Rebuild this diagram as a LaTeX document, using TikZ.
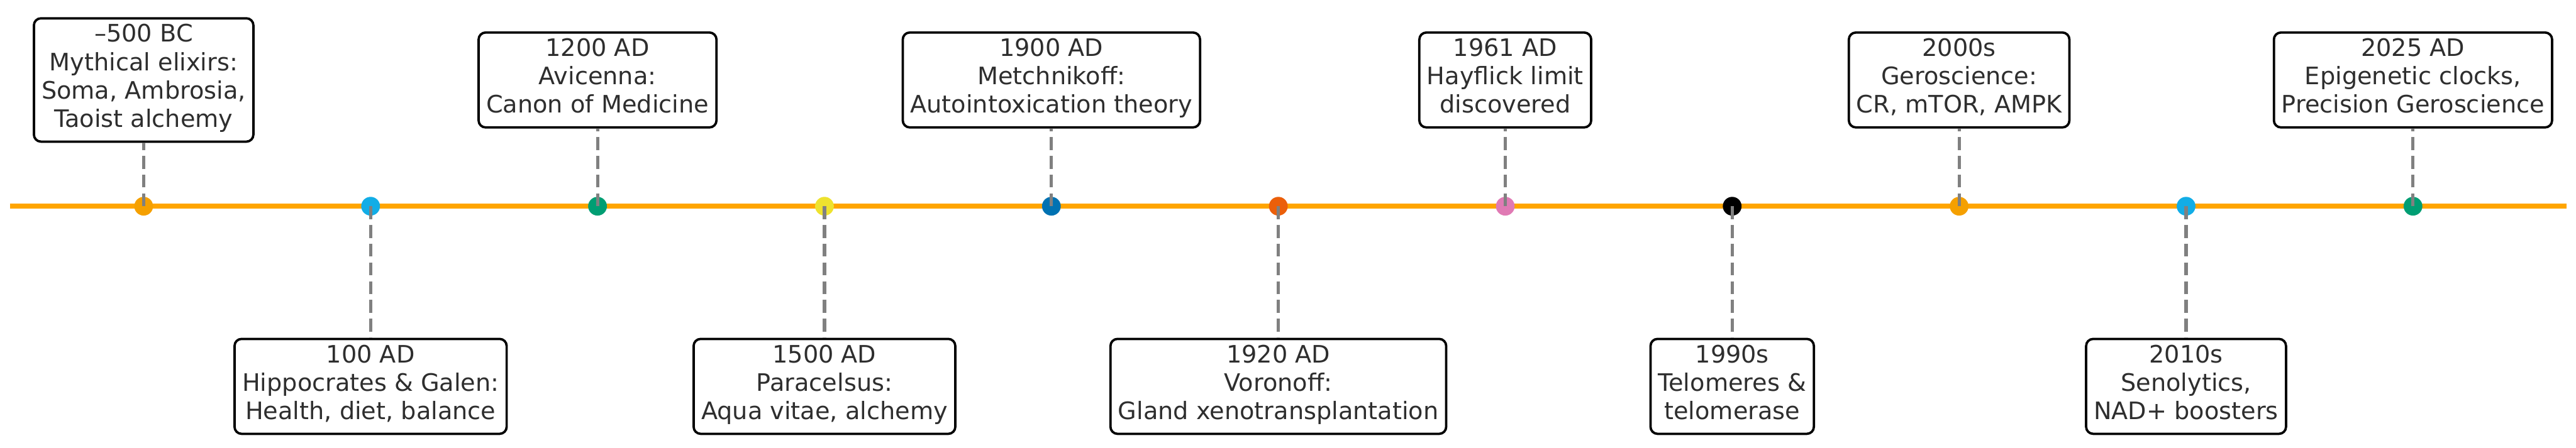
\documentclass[tikz,border=0pt]{standalone}
\usepackage{fontspec}
\setmainfont{DejaVu Sans}
\usetikzlibrary{positioning}
\definecolor{axisorange}{HTML}{FFA500}
\definecolor{oiorange}{HTML}{F5A000}
\definecolor{oisky}{HTML}{12ADE6}
\definecolor{oigreen}{HTML}{009E73}
\definecolor{oiyellow}{HTML}{EEE22E}
\definecolor{oiblue}{HTML}{0072B2}
\definecolor{oired}{HTML}{EB5F0A}
\definecolor{oipink}{HTML}{E07AB4}
\definecolor{stemgray}{HTML}{808080}
\definecolor{labeltext}{HTML}{2E2E2E}

\begin{document}
\begin{tikzpicture}[
  evt/.style={draw=black, line width=0.04cm, rounded corners=0.12cm, fill=white,
    align=center, inner xsep=0.13cm, inner ysep=0.1cm, text=labeltext,
    font=\fontsize{11.67}{13.8}\selectfont,
    execute at begin node=\strut, execute at end node=\strut},
  dot/.style={circle, inner sep=0pt, minimum size=0.32cm},
  stem/.style={stemgray, line width=0.055cm, dash pattern=on 0.22cm off 0.1cm}]
\useasboundingbox (0,0) rectangle (43.93,7.64);
\coordinate (up) at (0,6.275);
\coordinate (down) at (0,1.045);
\draw[axisorange, line width=0.08cm] (0.17,4.12) -- (43.77,4.12);
%event dots
\foreach \i/\c in {0/oiorange,1/oisky,2/oigreen,3/oiyellow,4/oiblue,5/oired,6/oipink,7/black,8/oiorange,9/oisky,10/oigreen}
  {\node[dot, fill=\c] (d\i) at (2.45+3.87*\i,4.12) {};}

%labels above the line
\node[evt] (e0) at (d0 |- up) {–500 BC\\Mythical elixirs:\\Soma, Ambrosia,\\Taoist alchemy};
\node[evt] (e2) at (d2 |- up) {1200 AD\\Avicenna:\\Canon of Medicine};
\node[evt] (e4) at (d4 |- up) {1900 AD\\Metchnikoff:\\Autointoxication theory};
\node[evt] (e6) at (d6 |- up) {1961 AD\\Hayflick limit\\discovered};
\node[evt] (e8) at (d8 |- up) {2000s\\Geroscience:\\CR, mTOR, AMPK};
\node[evt] (e10) at (d10 |- up) {2025 AD\\Epigenetic clocks,\\Precision Geroscience};

%labels below the line
\node[evt] (e1) at (d1 |- down) {100 AD\\Hippocrates \& Galen:\\Health, diet, balance};
\node[evt] (e3) at (d3 |- down) {1500 AD\\Paracelsus:\\Aqua vitae, alchemy};
\node[evt] (e5) at (d5 |- down) {1920 AD\\Voronoff:\\Gland xenotransplantation};
\node[evt] (e7) at (d7 |- down) {1990s\\Telomeres \&\\telomerase};
\node[evt] (e9) at (d9 |- down) {2010s\\Senolytics,\\NAD+ boosters};

%dashed stems
\foreach \i in {0,2,...,10} \draw[stem] (d\i.center) -- (e\i.south);
\foreach \i in {1,3,...,9} \draw[stem] (d\i.center) -- (e\i.north);
\end{tikzpicture}
\end{document}
